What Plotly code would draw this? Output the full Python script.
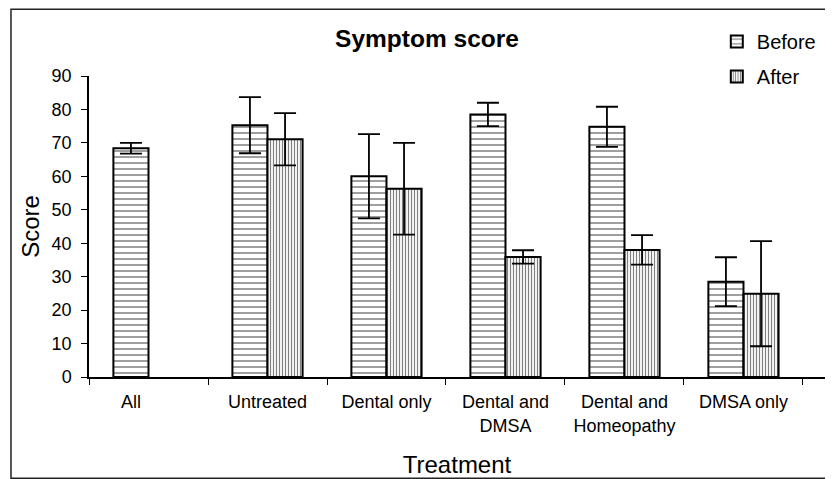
import plotly.graph_objects as go

categories = ["All", "Untreated", "Dental only", "Dental and<br>DMSA",
              "Dental and<br>Homeopathy", "DMSA only"]
# "All" label sits under its single bar, as in the original chart
tick_text = ["All" + "\u00a0" * 7, "Untreated", "Dental only",
             "Dental and<br>DMSA", "Dental and<br>Homeopathy", "DMSA only"]
before = [68.4, 75.3, 60.0, 78.5, 74.8, 28.5]
before_err = [1.6, 8.4, 12.6, 3.5, 6.0, 7.3]
after = [None, 71.1, 56.3, 35.9, 38.0, 24.9]
after_err = [None, 7.8, 13.7, 2.0, 4.4, 15.7]
y_ticks = [0, 10, 20, 30, 40, 50, 60, 70, 80, 90]

FONT = "Arial, Liberation Sans, sans-serif"
# page body has an 8px margin, so the figure is 8px smaller than the window
W, H = 825, 471

fig = go.Figure()
fig.add_trace(go.Bar(
    x=categories, y=before, name="Before",
    marker=dict(color="white", line=dict(color="black", width=2),
                pattern=dict(shape="-", fgcolor="black", bgcolor="white",
                             size=6, solidity=0.25)),
    error_y=dict(type="data", array=before_err, color="black",
                 thickness=1.8, width=11),
    legendgroup="b",
))
fig.add_trace(go.Bar(
    x=categories, y=after, name="After",
    marker=dict(color="white", line=dict(color="black", width=2),
                pattern=dict(shape="|", fgcolor="black", bgcolor="white",
                             size=3, solidity=0.4)),
    error_y=dict(type="data", array=after_err, color="black",
                 thickness=1.8, width=11),
    legendgroup="a",
))

# outer frame
fig.add_shape(type="rect", xref="paper", yref="paper",
              x0=-0.106, x1=1.2, y0=-0.336, y1=1.222,
              line=dict(color="#222", width=1.5), layer="below")

fig.update_layout(
    width=W, height=H,
    margin=dict(l=81, r=8, t=68, b=102, autoexpand=False),
    paper_bgcolor="white", plot_bgcolor="white",
    font=dict(family=FONT, color="black", size=18),
    barmode="group", bargap=0.41, bargroupgap=0,
    title=dict(text="<b>Symptom score</b>", font=dict(size=24.5),
               x=419 / W, xref="container", xanchor="center",
               y=1 - 30 / H, yref="container", yanchor="middle"),
    legend=dict(x=0.853, y=1 - 14 / H, xanchor="left", yanchor="top",
                xref="paper", yref="container",
                font=dict(size=20), tracegroupgap=6, itemwidth=30,
                traceorder="grouped", bgcolor="rgba(0,0,0,0)"),
    showlegend=True,
    xaxis=dict(range=[-0.5, 5.685], tickvals=categories, ticktext=tick_text,
               showline=True, linecolor="black",
               linewidth=1.5, ticks="outside", tickson="boundaries",
               ticklen=6, tickcolor="black", showgrid=False,
               tickfont=dict(size=18), ticklabelstandoff=8, automargin=False,
               title=dict(text="Treatment", font=dict(size=24), standoff=21)),
    yaxis=dict(range=[0, 90], tickvals=y_ticks, showline=True,
               linecolor="black", linewidth=1.5, ticks="outside",
               ticklen=6, tickcolor="black", showgrid=False, zeroline=False,
               tickfont=dict(size=18), ticklabelstandoff=6, automargin=False,
               title=dict(text="Score", font=dict(size=24), standoff=5)),
)

fig.write_html("out.html")
